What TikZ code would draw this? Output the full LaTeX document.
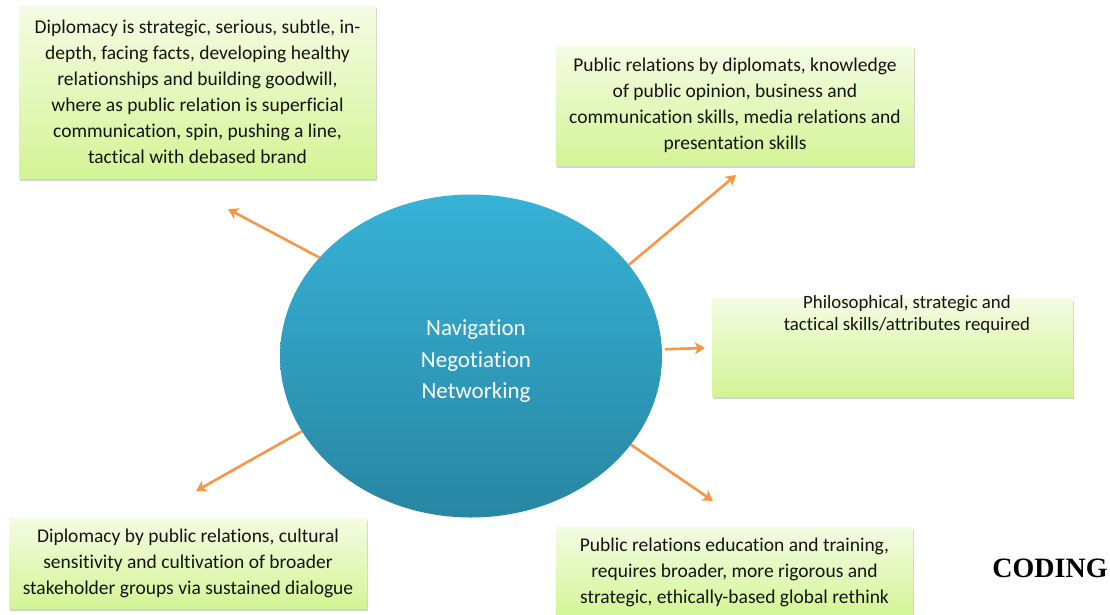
\documentclass[tikz,border=0pt]{standalone}
\usepackage{fontspec}
\setmainfont{Carlito}[Ligatures=NoCommon]
\newfontfamily\codingfont{Liberation Serif}
\usetikzlibrary{shapes.geometric,arrows.meta,shadows}

\definecolor{boxtop}{HTML}{F4FCE3}
\definecolor{boxbot}{HTML}{D3F495}
\definecolor{elltop}{HTML}{37B2D7}
\definecolor{ellbot}{HTML}{2886A2}
\definecolor{arr}{HTML}{F79646}
\definecolor{txt}{HTML}{141414}

\tikzset{
 gbox/.style={draw=none, top color=boxtop, bottom color=boxbot,
   drop shadow={shadow xshift=1pt,shadow yshift=-2.5pt,opacity=0.35},
   inner sep=0pt, align=center, font=\fontsize{19.5}{26}\selectfont, text=txt},
 conn/.style={draw=arr, line width=2.6pt, -{Stealth[length=10pt,width=12pt,inset=2.5pt]}},
}

\begin{document}
\begin{tikzpicture}[x=1pt,y=-1pt]
\useasboundingbox (0,0) rectangle (1110,614);

\node[ellipse, minimum width=382pt, minimum height=323pt, inner sep=0pt,
  top color=elltop, bottom color=ellbot, draw=none] (c) at (471,356) {};
\node[text=white, align=center, font=\fontsize{23}{31.5}\selectfont] (ctxt) at (476,361.5)
  {Navigation\\Negotiation\\Networking};

\node[gbox, minimum width=357pt, minimum height=173pt] (tl) at (197.5,91.5)
  {Diplomacy is strategic, serious, subtle, in-\\depth, facing facts, developing healthy\\relationships and building goodwill,\\where as public relation is superficial\\communication, spin, pushing a line,\\tactical with debased brand};

\node[gbox, minimum width=358pt, minimum height=119pt] (tr) at (735,105.5)
  {Public relations by diplomats, knowledge\\of public opinion, business and\\communication skills, media relations and\\presentation skills};

\node[gbox, minimum width=361pt, minimum height=98pt] (rb) at (892.5,347) {};
\node[align=center, text=txt, font=\fontsize{18.8}{22}\selectfont, inner sep=0pt] (rtxt) at (907,314)
  {Philosophical, strategic and\\tactical skills/attributes required};

\node[gbox, minimum width=358pt, minimum height=90pt] (bl) at (188,563)
  {Diplomacy by public relations, cultural\\sensitivity and cultivation of broader\\stakeholder groups via sustained dialogue};

\node[gbox, minimum width=357pt, minimum height=90pt] (br) at (734.5,572)
  {Public relations education and training,\\requires broader, more rigorous and\\strategic, ethically-based global rethink};

\node[font=\codingfont\bfseries\fontsize{28}{30}\selectfont, inner sep=0pt] (coding) at (1050,568) {CODING};

\coordinate (e1) at (228,209);
\coordinate (e2) at (736,175);
\coordinate (e3) at (705,348);
\coordinate (e4) at (196,491);
\coordinate (e5) at (713,501);

\draw[conn] (c.147.9) -- (e1);
\draw[conn] (c.30.3) -- (e2);
\draw[conn, shorten <=3pt] (c.2.3) -- (e3);
\draw[conn] (c.204.1) -- (e4);
\draw[conn] (c.331.9) -- (e5);
\end{tikzpicture}
\end{document}
